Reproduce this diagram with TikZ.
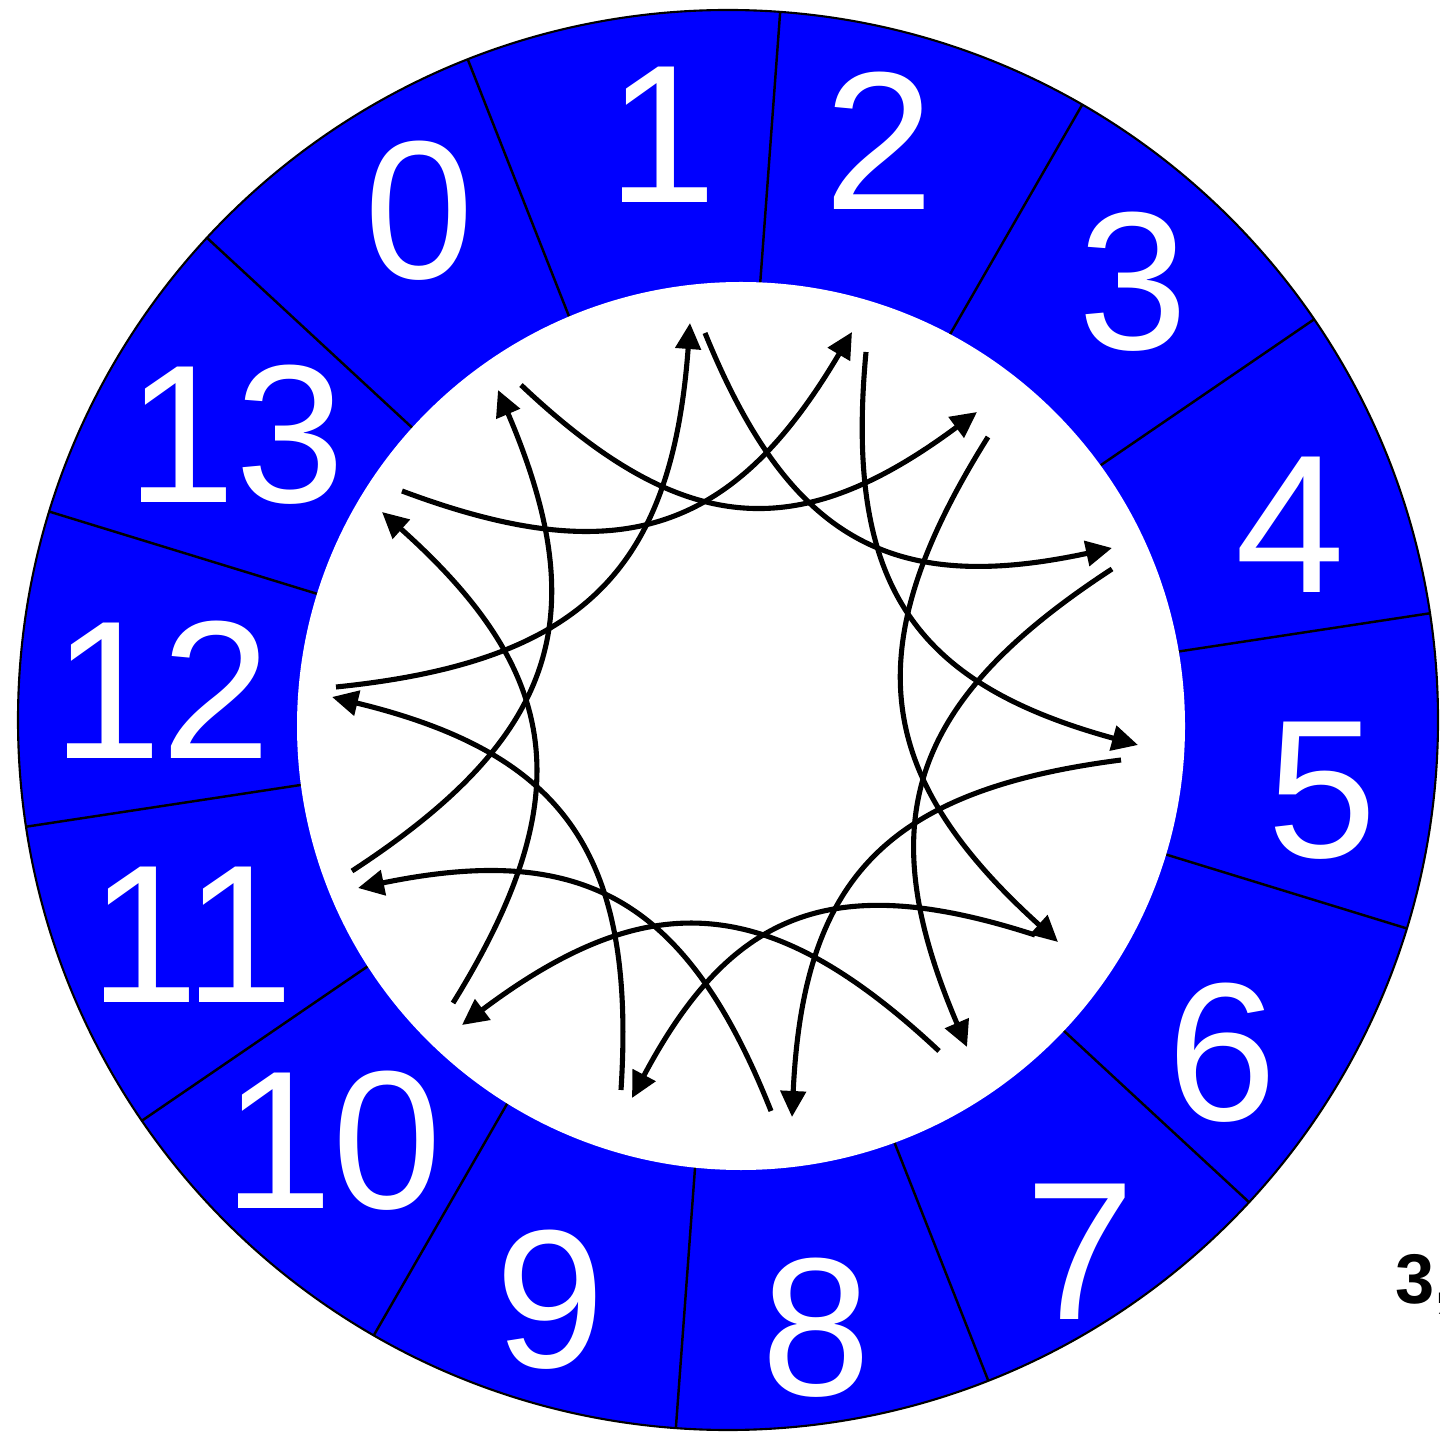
\documentclass[tikz,border=0pt]{standalone}
\usepackage{fontspec}
\setmainfont{Liberation Sans}
\usetikzlibrary{arrows.meta}

\tikzset{
  digit/.style={text=white, font=\fontsize{56}{60}\selectfont, inner sep=0pt},
  hop/.style={-{Triangle[length=0.26cm,width=0.25cm]}, line width=1.45pt, bend right=40, looseness=1.25},
}

\begin{document}
\begin{tikzpicture}[x=0.01cm,y=0.01cm]
    \useasboundingbox (0,0) rectangle (1440,1433);
    \coordinate (O) at (728,713);
    \coordinate (I) at (741,707);

    % ring of 14 sectors
    \filldraw[fill=blue, draw=black, line width=0.6pt] (O) circle (710);
    \foreach \k in {0,...,13}
        \draw[line width=0.7pt, shift={(O)}] (111.5-25.714*\k:400) -- (111.5-25.714*\k:710);
    \fill[white] (I) circle (444);

    \foreach \n/\x/\y in {0/419/211, 1/662/135, 2/879/141, 3/1133/282, 4/1290/525,
                          5/1322/791, 6/1222/1053, 7/1080/1252, 8/816/1328, 9/550/1300,
                          10/333/1141, 11/192/935, 12/162/690, 13/236/435}
        \node[digit] (n\n) at (\x,1433-\y) {\n};

    % heads and tails on the inner rim
    \foreach \i/\hx/\hy/\tx/\ty in {0/498/390/521/385, 1/690/323/705/333, 2/852/332/866/352,
                                    3/977/412/988/437, 4/1112/548/1112/569, 5/1138/745/1121/760,
                                    6/1058/942/1035/935, 7/967/1047/939/1051, 8/792/1117/771/1111,
                                    9/632/1098/621/1090, 10/462/1025/453/1003, 11/358/888/352/871,
                                    12/332/697/336/687, 13/382/512/402/491} {
        \coordinate (h\i) at (\hx,1433-\hy);
        \coordinate (t\i) at (\tx,1433-\ty);
    }
    \foreach \i [evaluate=\i as \j using {int(mod(\i+3,14))}] in {0,...,13}
        \draw[hop] (t\i) to (h\j);

    \node[anchor=base west, inner sep=0pt, font=\bfseries\fontsize{20}{24}\selectfont] (tag) at (1395,130) {3,};
\end{tikzpicture}
\end{document}
